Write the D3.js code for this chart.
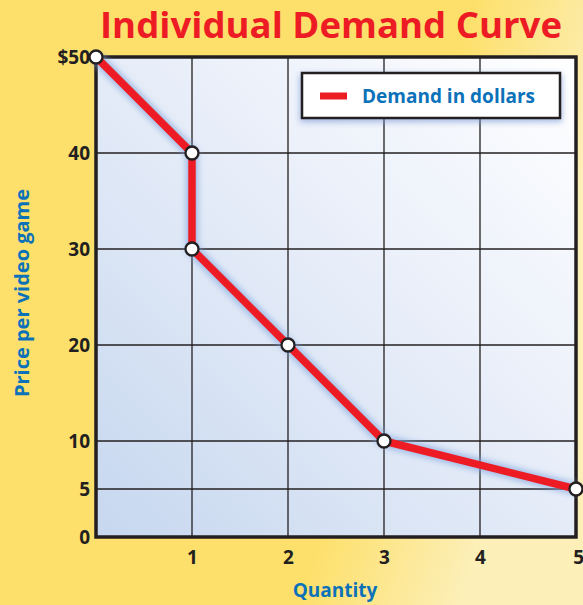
<!DOCTYPE html>
<html lang="en">
<head>
<meta charset="UTF-8">
<title>Individual Demand Curve</title>
<style>
  body { margin: 0; background: #fde06c; }
  text { font-family: "Open Sans", "DejaVu Sans", sans-serif; font-weight: 700; }
</style>
</head>
<body>
<script src="https://d3js.org/d3.v7.min.js"></script>
<div id="chart"></div>
<script>
// data
const quantities = [0, 1, 1, 2, 3, 5]
const prices = [50, 40, 30, 20, 10, 5]
const xTicks = [1, 2, 3, 4, 5]
const yTicks = [0, 5, 10, 20, 30, 40, 50]
const seriesName = "Demand in dollars"

const W = 583, H = 605
const MARGIN = { LEFT: 96, RIGHT: 7, TOP: 57, BOTTOM: 68 }
const WIDTH = W - MARGIN.LEFT - MARGIN.RIGHT
const HEIGHT = H - MARGIN.TOP - MARGIN.BOTTOM

const svg = d3.select("#chart").append("svg")
    .attr("width", W).attr("height", H)

const defs = svg.append("defs")
const bgGrad = defs.append("linearGradient").attr("id", "bg")
    .attr("x1", "0").attr("y1", "0").attr("x2", "1").attr("y2", "0.3")
bgGrad.append("stop").attr("offset", "0.75").attr("stop-color", "#fde06c")
bgGrad.append("stop").attr("offset", "1").attr("stop-color", "#fcefb8")

const plotGrad = defs.append("linearGradient").attr("id", "plotbg")
    .attr("x1", "0").attr("y1", "1").attr("x2", "1").attr("y2", "0")
plotGrad.append("stop").attr("offset", "0").attr("stop-color", "#c6d7ef")
plotGrad.append("stop").attr("offset", "0.55").attr("stop-color", "#e8eef9")
plotGrad.append("stop").attr("offset", "1").attr("stop-color", "#ffffff")

const glow = defs.append("filter").attr("id", "glow")
    .attr("x", "-20%").attr("y", "-20%").attr("width", "140%").attr("height", "140%")
glow.append("feGaussianBlur").attr("stdDeviation", 3)

svg.append("rect").attr("width", W).attr("height", H).attr("fill", "url(#bg)")

const g = svg.append("g").attr("transform", `translate(${MARGIN.LEFT},${MARGIN.TOP})`)

const x = d3.scaleLinear().domain([0, 5]).range([0, WIDTH])
const y = d3.scaleLinear().domain([0, 50]).range([HEIGHT, 0])

g.append("rect").attr("width", WIDTH).attr("height", HEIGHT).attr("fill", "url(#plotbg)")

// grid
g.append("g").selectAll("line").data(xTicks).join("line")
    .attr("x1", d => x(d)).attr("x2", d => x(d))
    .attr("y1", 0).attr("y2", HEIGHT)
    .attr("stroke", "#231f20").attr("stroke-width", 1.3)
g.append("g").selectAll("line").data(yTicks.filter(d => d > 0 && d < 50)).join("line")
    .attr("x1", 0).attr("x2", WIDTH)
    .attr("y1", d => y(d)).attr("y2", d => y(d))
    .attr("stroke", "#231f20").attr("stroke-width", 1.3)

g.append("rect").attr("width", WIDTH).attr("height", HEIGHT)
    .attr("fill", "none").attr("stroke", "#231f20").attr("stroke-width", 3.5)

// axes
const xAxis = g.append("g").attr("transform", `translate(0,${HEIGHT})`)
    .call(d3.axisBottom(x).tickValues(xTicks).tickSize(0).tickPadding(14)
        .tickFormat(d3.format("d")))
const yAxis = g.append("g")
    .call(d3.axisLeft(y).tickValues(yTicks).tickSize(0).tickPadding(6)
        .tickFormat(d => d === 50 ? "$50" : d))
xAxis.select(".domain").remove()
yAxis.select(".domain").remove()
xAxis.selectAll("text").attr("font-size", 19).attr("fill", "#231f20")
yAxis.selectAll("text").attr("font-size", 19).attr("fill", "#231f20")
// last x label sits at the edge, pull it in a little
xAxis.selectAll("text").filter(d => d === 5).attr("text-anchor", "end").attr("dx", "0.4em")

// legend
const lg = g.append("g").attr("transform", `translate(${302 - MARGIN.LEFT},${73 - MARGIN.TOP})`)
lg.append("rect").attr("x", -2).attr("y", 1).attr("width", 262).attr("height", 48)
    .attr("fill", "#6f8fd0").attr("opacity", 0.6).attr("filter", "url(#glow)")
lg.append("rect").attr("width", 258).attr("height", 45)
    .attr("fill", "#ffffff").attr("stroke", "#231f20").attr("stroke-width", 2.5)
lg.append("line").attr("x1", 18).attr("x2", 45).attr("y1", 23).attr("y2", 23)
    .attr("stroke", "#ed1c24").attr("stroke-width", 7)
lg.append("text").attr("x", 60).attr("y", 30).attr("font-size", 19)
    .attr("fill", "#0b72b9").text(seriesName)

// demand line
const pts = quantities.map((q, i) => [q, prices[i]])
const line = d3.line().x(d => x(d[0])).y(d => y(d[1]))
g.append("path").datum(pts).attr("d", line)
    .attr("fill", "none").attr("stroke", "#7fa3dc").attr("stroke-width", 12)
    .attr("stroke-linejoin", "round").attr("opacity", 0.7).attr("filter", "url(#glow)")
g.append("path").datum(pts).attr("d", line)
    .attr("fill", "none").attr("stroke", "#ed1c24").attr("stroke-width", 7.5)
    .attr("stroke-linejoin", "round")
g.append("g").selectAll("circle").data(pts).join("circle")
    .attr("cx", d => x(d[0])).attr("cy", d => y(d[1])).attr("r", 6.5)
    .attr("fill", "#ffffff").attr("stroke", "#231f20").attr("stroke-width", 2.3)

// titles
svg.append("text").attr("x", 331).attr("y", 38).attr("text-anchor", "middle")
    .attr("font-size", 36).attr("font-weight", 800).attr("fill", "#ed1c24")
    .attr("textLength", 462).attr("lengthAdjust", "spacingAndGlyphs")
    .text("Individual Demand Curve")
svg.append("text").attr("x", 335).attr("y", 597).attr("text-anchor", "middle")
    .attr("font-size", 19).attr("fill", "#0b72b9").text("Quantity")
svg.append("text").attr("transform", "translate(29,293) rotate(-90)")
    .attr("text-anchor", "middle").attr("font-size", 20).attr("fill", "#0b72b9")
    .text("Price per video game")
</script>
</body>
</html>
